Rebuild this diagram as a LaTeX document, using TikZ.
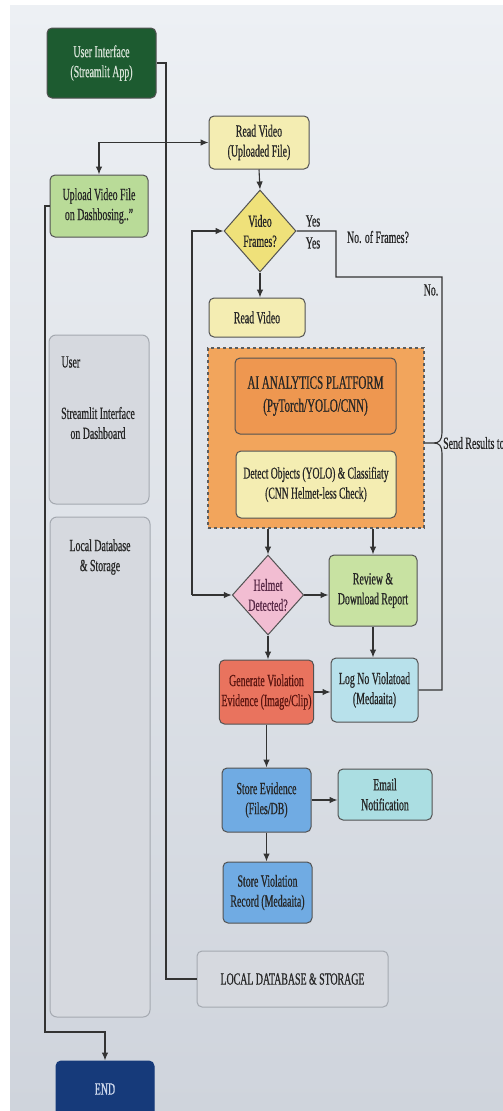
\documentclass[tikz,border=0pt]{standalone}
\usepackage{fontspec}
\setmainfont{Liberation Serif}[FakeStretch=0.58,FakeBold=0.6]
\usepackage{tikz}
\usetikzlibrary{arrows.meta,positioning,shapes.geometric,calc}
\definecolor{bgtop}{HTML}{EDF0F4}
\definecolor{bgbot}{HTML}{CFD4DC}
\definecolor{ink}{HTML}{333333}
\definecolor{txt}{HTML}{262626}
\definecolor{uigreen}{HTML}{1D5B30}
\definecolor{uitext}{HTML}{D8E3D8}
\definecolor{paleyellow}{HTML}{F4EDB2}
\definecolor{diayellow}{HTML}{EFE17A}
\definecolor{upgreen}{HTML}{B9DB98}
\definecolor{revgreen}{HTML}{C8E2A2}
\definecolor{aiorange}{HTML}{F2A55C}
\definecolor{platorange}{HTML}{EE9750}
\definecolor{helmpink}{HTML}{F2BDD2}
\definecolor{helmtext}{HTML}{5A2A48}
\definecolor{violred}{HTML}{E9735E}
\definecolor{violtext}{HTML}{5A1510}
\definecolor{logcyan}{HTML}{B8E1EB}
\definecolor{mailcyan}{HTML}{ABDEE2}
\definecolor{storeblue}{HTML}{70ABE3}
\definecolor{panelgray}{HTML}{D6D9DF}
\definecolor{panelline}{HTML}{A4A9B0}
\definecolor{endnavy}{HTML}{163A7A}
\definecolor{endtext}{HTML}{D0DAEE}
\newcommand{\boxfont}{\fontsize{17}{20}\selectfont}
\newcommand{\bigfont}{\fontsize{19}{23}\selectfont}
\tikzset{
  flowbox/.style={draw=ink!85,line width=1pt,rounded corners=5pt,
                  align=center,font=\boxfont,text=txt,inner sep=2pt},
  decision/.style={diamond,draw=ink!85,line width=1pt,
                   align=center,font=\boxfont,text=txt,inner sep=0pt},
  panel/.style={draw=panelline,fill=panelgray,line width=1pt,rounded corners=7pt},
  flowline/.style={draw=ink,line width=1.1pt},
  flowarr/.style={flowline,-{Latex[length=8pt,width=6.5pt]}},
  lbl/.style={font=\boxfont,text=txt}
}
\begin{document}
\begin{tikzpicture}[x=1pt,y=-1pt]
  % page and screen background
  \fill[white] (0,0) rectangle (503,1111);
  \shade[top color=bgtop,bottom color=bgbot] (10,5) rectangle (503,1111);
  \useasboundingbox (0,0) rectangle (503,1111);

  % left column panels
  \node[panel,minimum width=100,minimum height=169] (userpanel) at (99,419.5) {};
  \node[panel,minimum width=100,minimum height=500] (localpanel) at (100,767) {};
  \node[lbl,anchor=west] at (58,362) {User};
  \node[lbl,align=center] at (98,423) {Streamlit Interface\\on Dashboard};
  \node[lbl,align=center] at (100,557) {Local Database\\\& Storage};

  % boxes
  \node[flowbox,fill=uigreen,text=uitext,minimum width=109,minimum height=70] (ui) at (101.5,63) {User Interface\\(Streamlit App)};
  \node[flowbox,fill=paleyellow,minimum width=100,minimum height=53] (readvid) at (259,142.5) {Read Video\\(Uploaded File)};
  \node[flowbox,fill=upgreen,minimum width=98,minimum height=62] (upload) at (99,206) {Upload Video File\\on Dashbosing..''};
  \node[decision,fill=diayellow,minimum width=72,minimum height=82] (vframes) at (260,231) {Video\\Frames?};
  \node[flowbox,fill=paleyellow,minimum width=96,minimum height=39] (readvid2) at (257,317.5) {Read Video};

  % AI container
  \node[draw=ink!80,dashed,line width=1.2pt,fill=aiorange,minimum width=216,minimum height=180] (aibox) at (316,438) {};
  \node[flowbox,fill=platorange,minimum width=161,minimum height=76,font=\bigfont] (aiplat) at (315.5,396) {AI ANALYTICS PLATFORM\\(PyTorch/YOLO/CNN)};
  \node[flowbox,fill=paleyellow,minimum width=160,minimum height=67,font=\fontsize{16.5}{20}\selectfont] (detect) at (316,484.5) {Detect Objects (YOLO) \& Classifiaty\\(CNN Helmet-less Check)};

  \node[decision,fill=helmpink,text=helmtext,minimum width=70,minimum height=80] (helmet) at (268,595) {Helmet\\Detected?};
  \node[flowbox,fill=revgreen,minimum width=88,minimum height=71] (review) at (373,590.5) {Review \&\\Download Report};
  \node[flowbox,fill=violred,text=violtext,minimum width=89,minimum height=64] (genviol) at (266.5,692) {Generate Violation\\Evidence (Image/Clip)};
  \node[flowbox,fill=logcyan,minimum width=87,minimum height=64] (lognov) at (374.5,690) {Log No Violatoad\\(Medaaita)};
  \node[flowbox,fill=storeblue,minimum width=89,minimum height=64] (storeev) at (266.5,800) {Store Evidence\\(Files/DB)};
  \node[flowbox,fill=mailcyan,minimum width=94,minimum height=51] (email) at (385,794.5) {Email\\Notification};
  \node[flowbox,fill=storeblue,minimum width=89,minimum height=61] (storerec) at (267.5,892.5) {Store Violation\\Record (Medaaita)};
  \node[flowbox,draw=panelline,fill=panelgray,minimum width=191,minimum height=56] (localdb) at (292.5,979) {LOCAL DATABASE \& STORAGE};
  \node[flowbox,draw=endnavy,fill=endnavy,text=endtext,minimum width=98,minimum height=56] (end) at (105,1089) {END};

  % junction points
  \coordinate (j) at (166,142.5);
  \coordinate (loop) at (192,595);
  \coordinate (ret1) at (336,277);
  \coordinate (ret2) at (442,433);
  \coordinate (brtip) at (434,443);
  \coordinate (ret3) at (442,453);
  \coordinate (lft) at (45,1032);

  % connectors
  \draw[flowline] (ui.east) -| (j);
  \draw[flowarr] (j) -| (upload.north);
  \draw[flowarr] (j) -- (readvid.west);
  \draw[flowline] (j) |- (localdb.west);
  \draw[flowarr] (readvid.south) -- (vframes.north);
  \draw[flowarr] (vframes.south) -- (vframes.south |- readvid2.north);
  \draw[flowarr] (loop) |- (vframes.west);
  \draw[flowarr] (loop) -- (helmet.west);
  \draw[flowarr] (helmet.north |- aibox.south) -- (helmet.north);
  \draw[flowarr] (review.north |- aibox.south) -- (review.north);
  \draw[flowarr] (helmet.east) -- (helmet.east -| review.west);
  \draw[flowarr] (helmet.south) -- (helmet.south |- genviol.north);
  \draw[flowarr] (genviol.east) -- (genviol.east -| lognov.west);
  \draw[flowarr] (review.south) -- (review.south |- lognov.north);
  \draw[flowarr] (genviol.south) -- (storeev.north);
  \draw[flowarr] (storeev.east) -- (storeev.east -| email.west);
  \draw[flowarr] (storeev.south) -- (storeev.south |- storerec.north);
  \draw[flowarr] (upload.west) -| (lft) -| (end.north);

  % return path with brace
  \draw[flowline] (vframes.east) -| (ret1) -| (ret2) .. controls (442,440) and (439,443) .. (brtip) -- (aibox.east |- brtip);
  \draw[flowline] (brtip) .. controls (439,443) and (442,446) .. (ret3) |- (lognov.east);

  % labels
  \node[lbl] at (313,221) {Yes};
  \node[lbl] at (313,243) {Yes};
  \node[lbl] at (378,237) {No. of Frames?};
  \node[lbl] at (431,290) {No.};
  \node[lbl,anchor=west,inner sep=1pt] at (442,443) {Send Results to};
\end{tikzpicture}
\end{document}
